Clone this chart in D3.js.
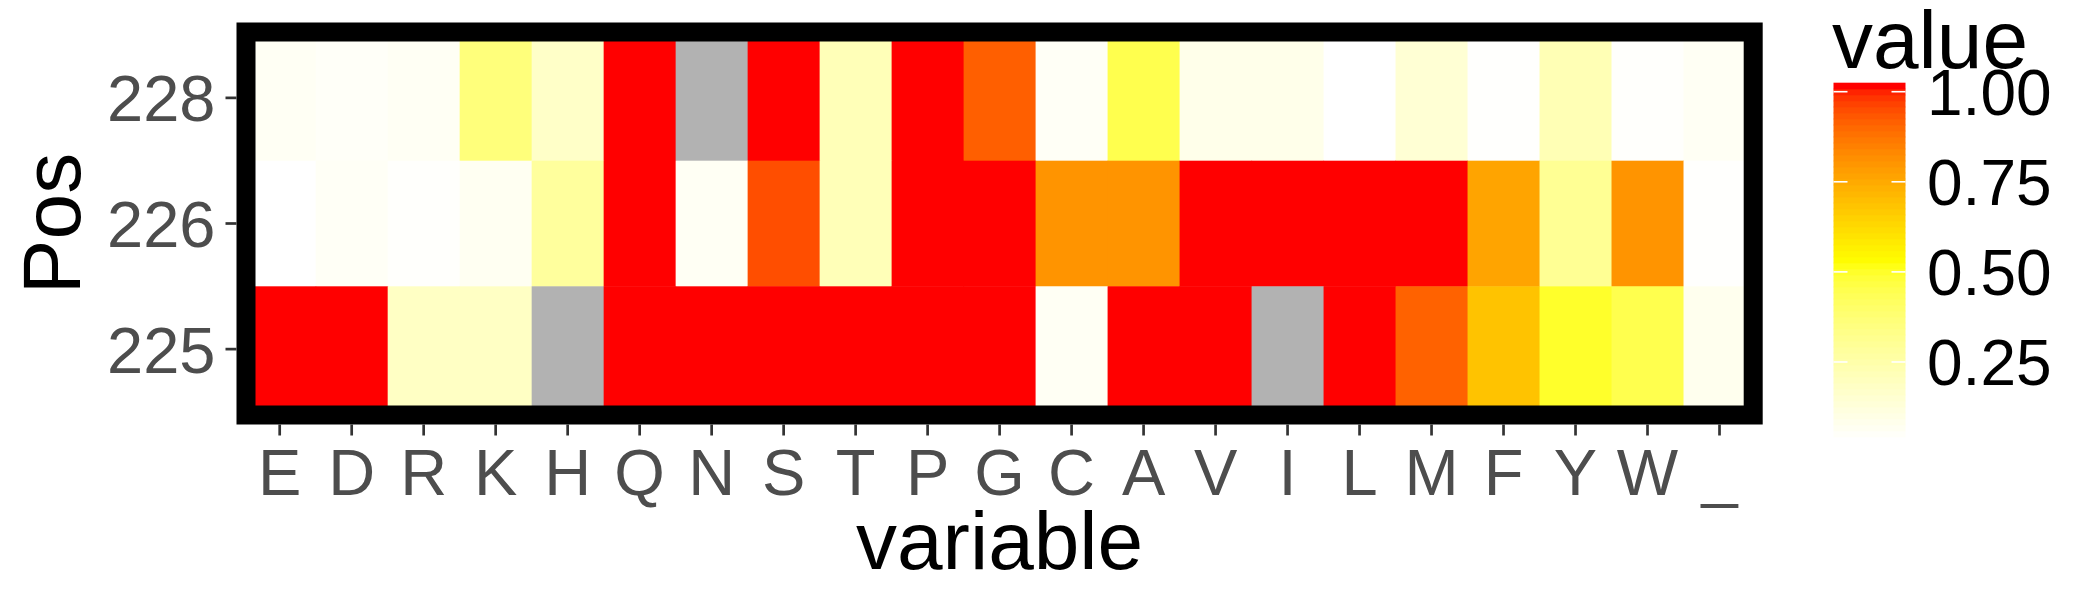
<!DOCTYPE html>
<html>
<head>
<meta charset="utf-8">
<script src="https://cdn.jsdelivr.net/npm/d3@7"></script>
<style>
  html, body { margin: 0; padding: 0; background: #fff; }
  svg { display: block; }
  text { font-family: "Liberation Sans", Arial, Helvetica, sans-serif; }
</style>
</head>
<body>
<svg id="chart" width="2100" height="600"></svg>
<script>
// ---- data ----
const variables = ["E","D","R","K","H","Q","N","S","T","P","G","C","A","V","I","L","M","F","Y","W","_"];
const positions = ["228","226","225"];
const values228 = [0.055, 0.045, 0.055, 0.36, 0.17, 1.025, null, 1.025, 0.21, 1.025, 0.925, 0.05, 0.45, 0.08, 0.08, 0.026, 0.14, 0.03, 0.22, 0.035, 0.055];
const values226 = [0.026, 0.05, 0.035, 0.06, 0.28, 1.025, 0.055, 0.955, 0.21, 1.025, 1.025, 0.81, 0.81, 1.025, 1.025, 1.025, 1.025, 0.77, 0.30, 0.81, 0.03];
const values225 = [1.025, 1.025, 0.18, 0.18, null, 1.025, 1.025, 1.025, 1.025, 1.025, 1.025, 0.055, 1.025, 1.025, null, 1.025, 0.92, 0.69, 0.50, 0.45, 0.07];
const legendTicks = [0.25, 0.50, 0.75, 1.00];
const xTitle = "variable", yTitle = "Pos", legendTitle = "value";

const rows = {"228": values228, "226": values226, "225": values225};
const cells = [];
positions.forEach(p => rows[p].forEach((v, i) => cells.push({pos: p, variable: variables[i], value: v})));

// ---- layout ----
const svg = d3.select("#chart");
const panel = {x0: 236.5, x1: 1762.7, y0: 22.5, y1: 424.5};
const border = 19;

const x = d3.scaleBand().domain(variables).range([panel.x0, panel.x1]).paddingInner(0).paddingOuter(0.1);
const y = d3.scaleBand().domain(positions).range([panel.y0, panel.y1]).paddingInner(0).paddingOuter(0.1);

const vals = cells.map(d => d.value).filter(v => v != null);
const [vmin, vmax] = d3.extent(vals);
const color = d3.scaleLinear()
  .domain([vmin, (vmin + vmax) / 2, vmax])
  .range(["#ffffff", "#ffff00", "#ff0000"])
  .interpolate(d3.interpolateLab);
const naColor = "#b2b2b2";

// tiles
svg.append("g").selectAll("rect").data(cells).join("rect")
  .attr("x", d => x(d.variable))
  .attr("y", d => y(d.pos))
  .attr("width", x.bandwidth() + 0.5)
  .attr("height", y.bandwidth() + 0.5)
  .attr("fill", d => d.value == null ? naColor : color(d.value));

// panel border (visible inner half)
svg.append("rect")
  .attr("x", panel.x0 + border / 2).attr("y", panel.y0 + border / 2)
  .attr("width", panel.x1 - panel.x0 - border).attr("height", panel.y1 - panel.y0 - border)
  .attr("fill", "none").attr("stroke", "#000").attr("stroke-width", border);

// axes
const xAxis = d3.axisBottom(x).tickSize(11).tickPadding(14);
const gx = svg.append("g").attr("transform", `translate(0,${panel.y1})`).call(xAxis);
gx.select(".domain").remove();
gx.selectAll(".tick line").attr("stroke", "#333333").attr("stroke-width", 2.7);
gx.selectAll(".tick text").attr("fill", "#4d4d4d").attr("font-size", 65)
  .attr("dy", null).attr("y", 70).attr("dominant-baseline", "auto");

const yAxis = d3.axisLeft(y).tickSize(11).tickPadding(10);
const gy = svg.append("g").attr("transform", `translate(${panel.x0},0)`).call(yAxis);
gy.select(".domain").remove();
gy.selectAll(".tick line").attr("stroke", "#333333").attr("stroke-width", 2.7);
gy.selectAll(".tick text").attr("fill", "#4d4d4d").attr("font-size", 65).attr("dy", "0.36em");
svg.selectAll(".tick text").attr("font-family", "Liberation Sans, Arial, sans-serif");

// axis titles
svg.append("text").attr("x", (panel.x0 + panel.x1) / 2).attr("y", 569)
  .attr("text-anchor", "middle").attr("font-size", 82).attr("fill", "#000").text(xTitle);
svg.append("text").attr("transform", `translate(80,${(panel.y0 + panel.y1) / 2}) rotate(-90)`)
  .attr("text-anchor", "middle").attr("font-size", 82).attr("fill", "#000").text(yTitle);

// legend
const lg = {x: 1833.5, w: 72, y0: 82.7, y1: 442.7};
const ly = d3.scaleLinear().domain([vmin, vmax]).range([lg.y1, lg.y0]);
const nbin = 60;
const binVals = d3.range(nbin).map(i => vmin + (vmax - vmin) * i / (nbin - 1));
const binH = (lg.y1 - lg.y0) / nbin;
svg.append("g").selectAll("rect").data(binVals).join("rect")
  .attr("x", lg.x).attr("width", lg.w)
  .attr("y", (d, i) => lg.y1 - (i + 1) * binH)
  .attr("height", binH + 0.6)
  .attr("fill", d => color(d));
const lt = svg.append("g");
legendTicks.forEach(t => {
  const yy = ly(t);
  lt.append("line").attr("x1", lg.x).attr("x2", lg.x + 14).attr("y1", yy).attr("y2", yy)
    .attr("stroke", "#fff").attr("stroke-width", 1.6);
  lt.append("line").attr("x1", lg.x + lg.w - 14).attr("x2", lg.x + lg.w).attr("y1", yy).attr("y2", yy)
    .attr("stroke", "#fff").attr("stroke-width", 1.6);
  lt.append("text").attr("x", 1927).attr("y", yy).attr("dy", "0.36em")
    .attr("font-size", 64).attr("fill", "#000").text(d3.format(".2f")(t));
});
svg.append("text").attr("x", 1832).attr("y", 68).attr("font-size", 82).attr("fill", "#000").text(legendTitle);
</script>
</body>
</html>
